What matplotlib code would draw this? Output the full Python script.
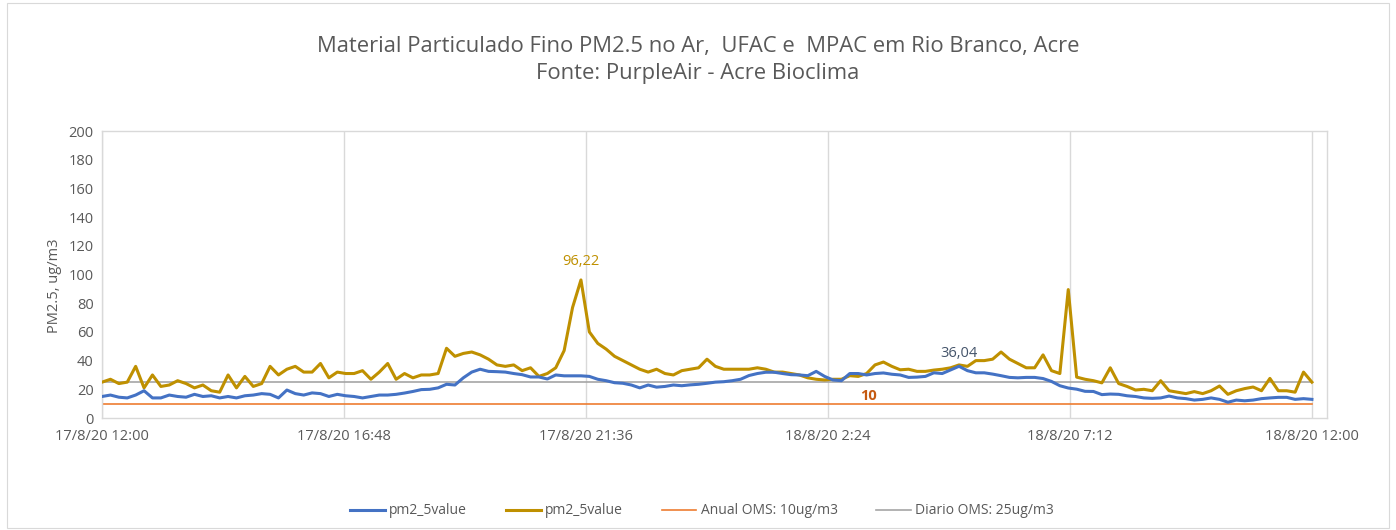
import numpy as np
import pandas as pd
import matplotlib
matplotlib.use("Agg")
import matplotlib.pyplot as plt
from matplotlib.patches import Rectangle

plt.rcParams['font.family'] = ['Open Sans', 'DejaVu Sans']

title = "Material Particulado Fino PM2.5 no Ar,  UFAC e  MPAC em Rio Branco, Acre\nFonte: PurpleAir - Acre Bioclima"
ylabel = "PM2.5, ug/m3"
start = "2020-08-17 12:00"
freq = "10min"

blue_values = [
    15, 16, 14.5, 14, 16, 19, 14, 14, 16, 15, 14.5, 16.5,
    15, 15.5, 14, 15, 14, 15.5, 16, 17, 16.5, 14, 19.5, 17,
    16, 17.5, 17, 15, 16.5, 15.5, 15, 14, 15, 16, 16, 16.5,
    17.4, 18.5, 19.8, 20, 21, 23.5, 23, 28, 32, 34, 32.5, 32.3,
    32, 31, 30.2, 28.6, 28.6, 27.2, 30, 29.4, 29.4, 29.4, 29, 27,
    26, 24.6, 24.2, 23, 21, 23, 21.5, 22, 23, 22.5, 23.1, 23.5,
    24.2, 25, 25.3, 26, 27, 29.6, 31, 31.9, 31.9, 31, 30.2, 30,
    29.5, 32.5, 29, 26.5, 26, 31, 31, 30, 31, 31.4, 30.5, 30,
    28.3, 28.5, 29, 31.5, 31, 33.5, 36.04, 33, 31.5, 31.5, 30.6, 29.5,
    28.3, 28, 28.3, 28.3, 27.5, 25.5, 22.5, 20.9, 20.1, 18.6, 18.5, 16.3,
    16.7, 16.5, 15.5, 15, 14, 13.7, 14, 15.3, 14, 13.5, 12.5, 13,
    14, 13, 11, 12.5, 12, 12.5, 13.5, 14, 14.4, 14.4, 13, 13.5,
    13,
]
gold_values = [
    25, 27, 24, 25, 36, 21, 30, 22, 23, 26, 24, 21,
    23, 19, 18, 30, 21, 29, 22, 24, 36, 30, 34, 36,
    32, 32, 38, 28, 32, 31, 31, 33, 27, 32, 38, 27,
    31, 28, 30, 30, 31, 48.6, 43, 45, 46, 44, 41, 37,
    36, 37, 33, 35, 29, 31, 35, 47, 77, 96.22, 60, 52,
    48, 43, 40, 37, 34, 32, 34, 31, 30, 33, 34, 35,
    41, 36, 34, 34, 34, 34, 35, 34, 32, 32, 31, 30,
    28, 27, 26.5, 27, 27, 29.5, 29, 31, 37, 39, 36, 33.6,
    34, 32.5, 32.5, 33.4, 34, 35, 37, 36, 40, 40, 41, 46,
    41, 38, 35, 35, 44, 33, 31, 89.5, 28.5, 27, 26, 24.5,
    35, 24, 22, 19.5, 20, 19, 26, 19, 18, 17, 18.4, 17,
    19, 22.3, 16.5, 19, 20.5, 21.6, 19, 27.6, 19, 19, 18, 32,
    25,
]
annual_limit = 10
daily_limit = 25
series_names = ["pm2_5value", "pm2_5value", "Anual OMS: 10ug/m3", "Diario OMS: 25ug/m3"]
xtick_labels = ["17/8/20 12:00", "17/8/20 16:48", "17/8/20 21:36",
                "18/8/20 2:24", "18/8/20 7:12", "18/8/20 12:00"]
ytick_values = [0, 20, 40, 60, 80, 100, 120, 140, 160, 180, 200]
peak_gold_label = "96,22"
peak_blue_label = "36,04"
annual_label = "10"

times = pd.date_range(start=start, periods=len(blue_values), freq=freq)
tick_times = pd.date_range(start=start, periods=len(xtick_labels), freq="288min")

BLUE = "#4472C4"
GOLD = "#BF9000"
ORANGE = "#ED7D31"
GRAY = "#A5A5A5"
TXT = "#595959"
BORDER = "#D9D9D9"

fig = plt.figure(figsize=(13.96, 5.30), dpi=100)
fig.patches.append(Rectangle((0.005, 0.004), 0.99, 0.99, transform=fig.transFigure,
                             fill=False, edgecolor=BORDER, linewidth=0.8))
ax = fig.add_axes([0.0731, 0.2113, 0.8775, 0.5415])

l1, = ax.plot(times, blue_values, color=BLUE, lw=2.2, solid_joinstyle="round", zorder=4)
l2, = ax.plot(times, gold_values, color=GOLD, lw=2.2, solid_joinstyle="round", zorder=3)
l3, = ax.plot(times, [annual_limit] * len(times), color=ORANGE, lw=1.2, zorder=2)
l4, = ax.plot(times, [daily_limit] * len(times), color=GRAY, lw=1.2, zorder=2)

ax.set_ylim(0, 200)
x0 = times[0]
ax.set_xlim(x0, x0 + pd.Timedelta(hours=24.3))
ax.set_yticks(ytick_values)
ax.set_xticks(tick_times)
ax.set_xticklabels(xtick_labels)
ax.tick_params(axis="both", length=0, colors=TXT, labelsize=10.5)
ax.tick_params(axis="x", pad=8)
ax.tick_params(axis="y", pad=6)
ax.grid(axis="x", color=BORDER, lw=1.0)
ax.set_axisbelow(True)
for s in ["top", "right", "left", "bottom"]:
    ax.spines[s].set_color(BORDER)
    ax.spines[s].set_linewidth(1.0)

ax.set_ylabel(ylabel, color=TXT, fontsize=10.5)
ax.yaxis.set_label_coords(-0.033, 0.46)

# data labels
i_g = int(np.argmax(gold_values[:100]))
ax.annotate(peak_gold_label, (times[i_g], gold_values[i_g]), xytext=(0, 8),
            textcoords="offset points", ha="center", va="bottom", color=GOLD, fontsize=10.5)
i_b = int(np.argmax(blue_values))
ax.annotate(peak_blue_label, (times[i_b], blue_values[i_b]), xytext=(0, 4),
            textcoords="offset points", ha="center", va="bottom", color="#44546A", fontsize=10.5)
ax.annotate(annual_label, (x0 + pd.Timedelta(hours=15.2), annual_limit), xytext=(0, 0.5),
            textcoords="offset points", ha="center", va="bottom", color="#C55A11",
            fontsize=10.5, fontweight="bold")

fig.text(0.5, 0.887, title, ha="center", va="center", color=TXT, fontsize=15.8, linespacing=1.35)

fig.legend([l1, l2, l3, l4], series_names, loc="center", bbox_to_anchor=(0.503, 0.036),
           ncol=4, frameon=False, fontsize=10, labelcolor=TXT, handlelength=2.5,
           columnspacing=2.8, handletextpad=0.3)

fig.savefig("out.png", dpi=100)
